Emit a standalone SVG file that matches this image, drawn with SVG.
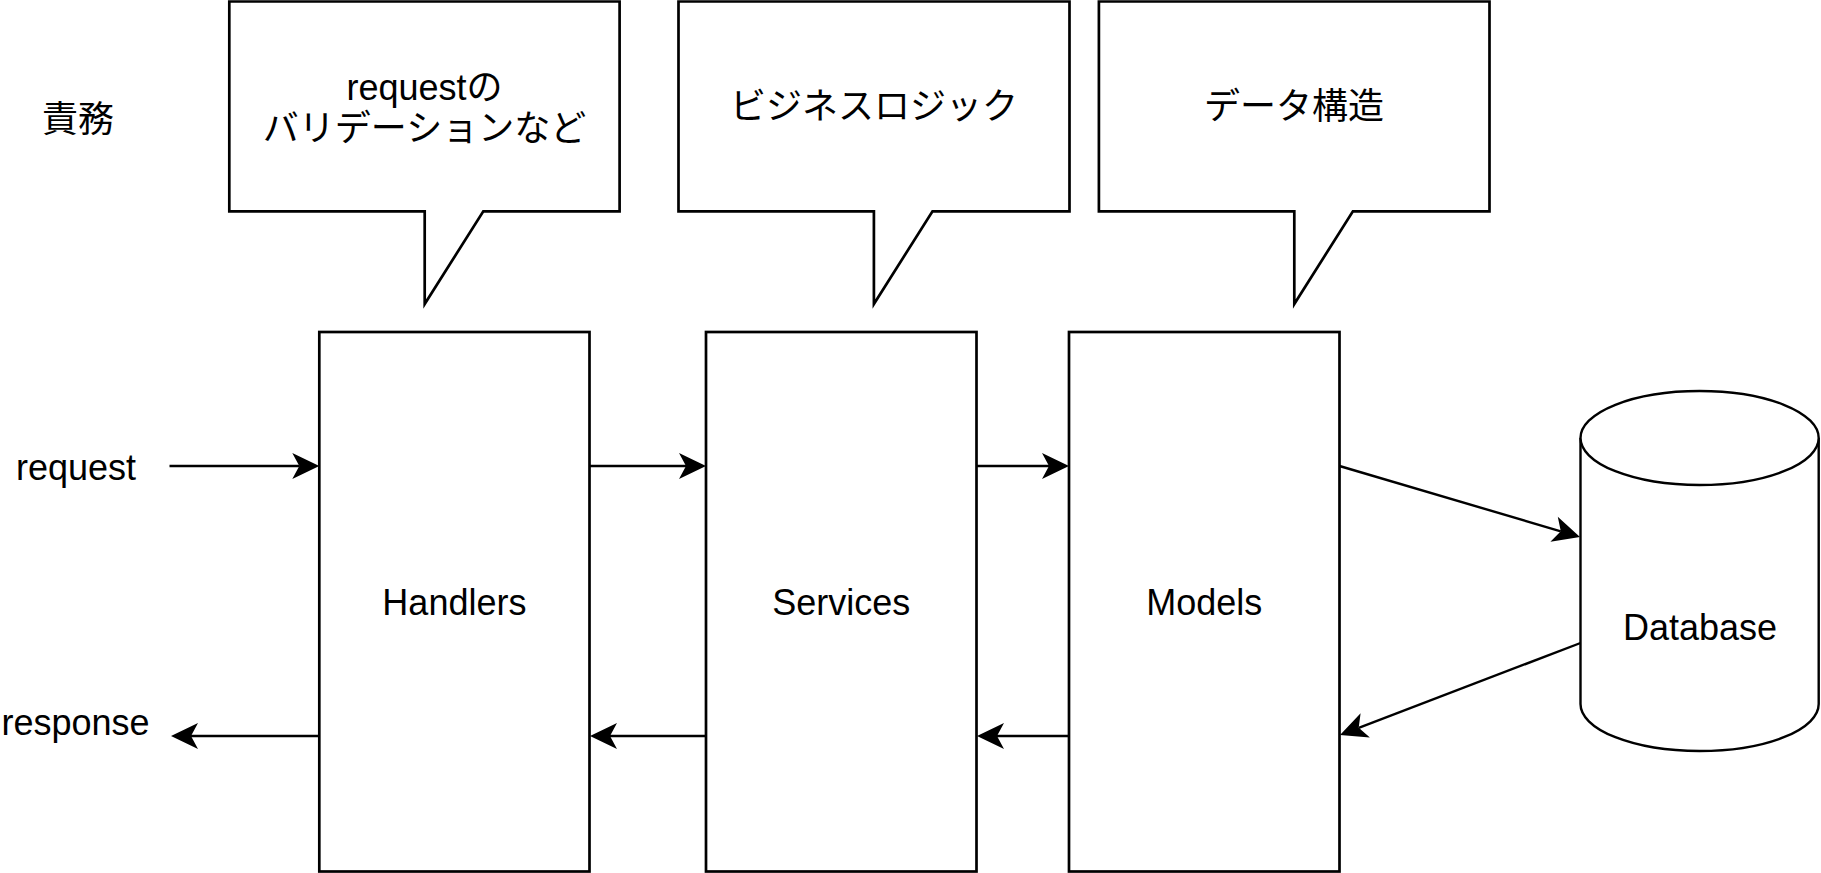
<svg xmlns="http://www.w3.org/2000/svg" width="1821" height="873" viewBox="0 0 1821 873">
<style>
text{font-family:"Liberation Sans","Noto Sans CJK JP",sans-serif;font-size:36px;fill:#000;text-anchor:middle}
.box{fill:#fff;stroke:#000;stroke-width:2.7}
.cyl{fill:#fff;stroke:#000;stroke-width:2.4}
.edge{fill:none;stroke:#000;stroke-width:2.4}
</style>
<defs>
<marker id="arr" markerUnits="userSpaceOnUse" viewBox="-28 -14 29 28" markerWidth="29" markerHeight="28" refX="-20" refY="0" orient="auto">
<path d="M0,0 L-27,-13 L-20,0 L-27,13 Z" fill="#000"/>
</marker>
</defs>
<rect width="1821" height="873" fill="#fff"/>
<g id="label-sekimu"><text x="78" y="132">責務</text></g>
<g id="callout-handlers">
<path class="box" d="M229.3,1.5 H619.6 V211.3 H483.3 L424.7,304 V211.3 H229.3 Z"/>
<text x="424.5" y="100">requestの</text>
<text x="424.5" y="141">バリデーションなど</text>
</g>
<g id="callout-services">
<path class="box" d="M678.5,1.5 H1069.5 V211.3 H932.5 L873.9,304 V211.3 H678.5 Z"/>
<text x="874" y="119">ビジネスロジック</text>
</g>
<g id="callout-models">
<path class="box" d="M1098.9,1.5 H1489.5 V211.3 H1352.9 L1294.3,304 V211.3 H1098.9 Z"/>
<text x="1294" y="119">データ構造</text>
</g>
<g id="label-request"><text x="76" y="480">request</text></g>
<g id="label-response"><text x="75.5" y="735">response</text></g>
<g id="handlers">
<rect class="box" x="319.3" y="332" width="270.2" height="539.5"/>
<text x="454.4" y="615">Handlers</text>
</g>
<g id="services">
<rect class="box" x="706" y="332" width="270.5" height="539.5"/>
<text x="841.2" y="615">Services</text>
</g>
<g id="models">
<rect class="box" x="1069" y="332" width="270.5" height="539.5"/>
<text x="1204.2" y="615">Models</text>
</g>
<g id="database">
<path class="cyl" d="M1580.5,438 A119.1,47 0 0 1 1818.7,438 V704 A119.1,47 0 0 1 1580.5,704 Z"/>
<path class="cyl" fill="none" d="M1580.5,438 A119.1,47 0 0 0 1818.7,438"/>
<text x="1700" y="640">Database</text>
</g>
<g id="connectors">
<path class="edge" marker-end="url(#arr)" d="M169.5,466 H299.3"/>
<path class="edge" marker-end="url(#arr)" d="M589.5,466 H686"/>
<path class="edge" marker-end="url(#arr)" d="M976.5,466 H1049"/>
<path class="edge" marker-end="url(#arr)" d="M1339.5,466 L1560.8,531.3"/>
<path class="edge" marker-end="url(#arr)" d="M1580.5,643 L1358.7,727.8"/>
<path class="edge" marker-end="url(#arr)" d="M1069,736 H997"/>
<path class="edge" marker-end="url(#arr)" d="M706,736 H610"/>
<path class="edge" marker-end="url(#arr)" d="M319.3,736 H191"/>
</g>
</svg>
